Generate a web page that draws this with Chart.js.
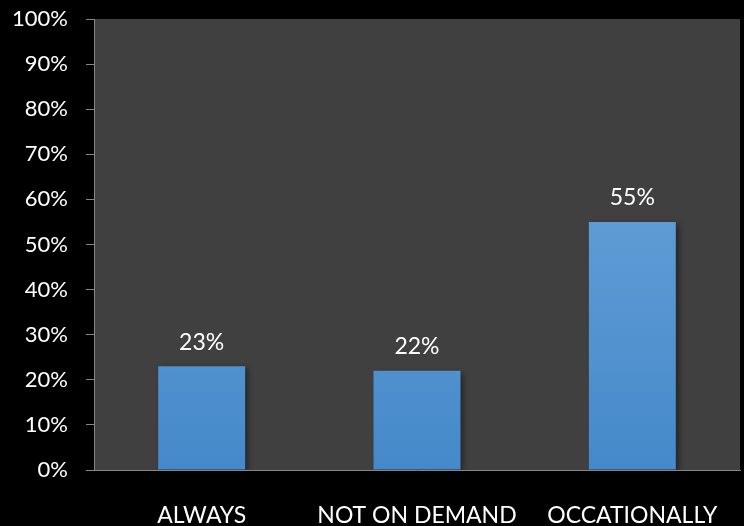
<!DOCTYPE html>
<html><head><meta charset="utf-8">
<script src="https://cdn.jsdelivr.net/npm/chart.js@4/dist/chart.umd.min.js"></script>
<style>html,body{margin:0;padding:0;background:#000;}#wrap{width:744px;height:526px;}</style>
</head><body><div id="wrap"><canvas id="c" width="744" height="526"></canvas></div>
<script>
const categories = ["ALWAYS", "NOT ON DEMAND", "OCCATIONALLY"];
const values = [23, 22, 55];
const yMin = 0, yMax = 100, yStep = 10;

const FONT = "Lato, 'Open Sans', sans-serif";

const bgPlugin = {
  id: 'bg',
  beforeDraw(chart) {
    const {ctx, chartArea: a} = chart;
    ctx.save();
    ctx.fillStyle = '#000';
    ctx.fillRect(0, 0, chart.width, chart.height);
    ctx.fillStyle = '#404040';
    ctx.fillRect(a.left, a.top, a.right - a.left, a.bottom - a.top);
    ctx.restore();
  }
};
const labelPlugin = {
  id: 'vlabels',
  afterDatasetsDraw(chart) {
    const {ctx} = chart;
    const meta = chart.getDatasetMeta(0);
    ctx.save();
    ctx.fillStyle = '#ffffff';
    ctx.font = "23px " + FONT;
    ctx.textAlign = 'center';
    ctx.textBaseline = 'middle';
    meta.data.forEach((bar, i) => {
      ctx.fillText(values[i] + '%', bar.x, bar.y - 24);
    });
    ctx.restore();
  }
};
const shadowPlugin = {
  id: 'shadow',
  beforeDatasetsDraw(chart) {
    const ctx = chart.ctx;
    ctx.save();
    ctx.shadowColor = 'rgba(0,0,0,0.45)';
    ctx.shadowBlur = 6;
    ctx.shadowOffsetX = 3;
    ctx.shadowOffsetY = 2;
  },
  afterDatasetsDraw(chart) { chart.ctx.restore(); }
};

new Chart(document.getElementById('c'), {
  type: 'bar',
  data: {
    labels: categories,
    datasets: [{
      data: values,
      backgroundColor(context) {
        const chart = context.chart;
        const a = chart.chartArea;
        if (!a) return '#5b9bd5';
        const el = context.element;
        const top = el && isFinite(el.y) ? el.y : a.top;
        const g = chart.ctx.createLinearGradient(0, top, 0, a.bottom);
        g.addColorStop(0, '#73aadd');
        g.addColorStop(1, '#4589ca');
        return g;
      },
      borderWidth: 0,
      categoryPercentage: 1,
      barPercentage: 0.404
    }]
  },
  options: {
    responsive: false,
    animation: false,
    devicePixelRatio: 1,
    layout: { padding: { top: 19, right: 4, left: 0, bottom: 0 } },
    plugins: { legend: { display: false }, tooltip: { enabled: false } },
    scales: {
      x: {
        grid: { display: false, drawTicks: false },
        border: { display: true, color: '#868686', width: 1 },
        ticks: { color: '#ffffff', font: { family: FONT, size: 23 }, padding: 32, maxRotation: 0, autoSkip: false },
        afterFit(s) { s.height = 56; s.paddingLeft = 0; s.paddingRight = 0; }
      },
      y: {
        min: yMin, max: yMax,
        grid: { display: true, drawOnChartArea: false, drawTicks: true, tickLength: 8, color: '#868686' },
        border: { display: true, color: '#868686', width: 1 },
        ticks: { stepSize: yStep, color: '#ffffff', font: { family: FONT, size: 22 }, padding: 18,
                 callback: v => v + '%' },
        afterFit(s) { s.width = 94; s.paddingTop = 0; s.paddingBottom = 0; }
      }
    }
  },
  plugins: [bgPlugin, shadowPlugin, labelPlugin]
});
</script></body></html>
